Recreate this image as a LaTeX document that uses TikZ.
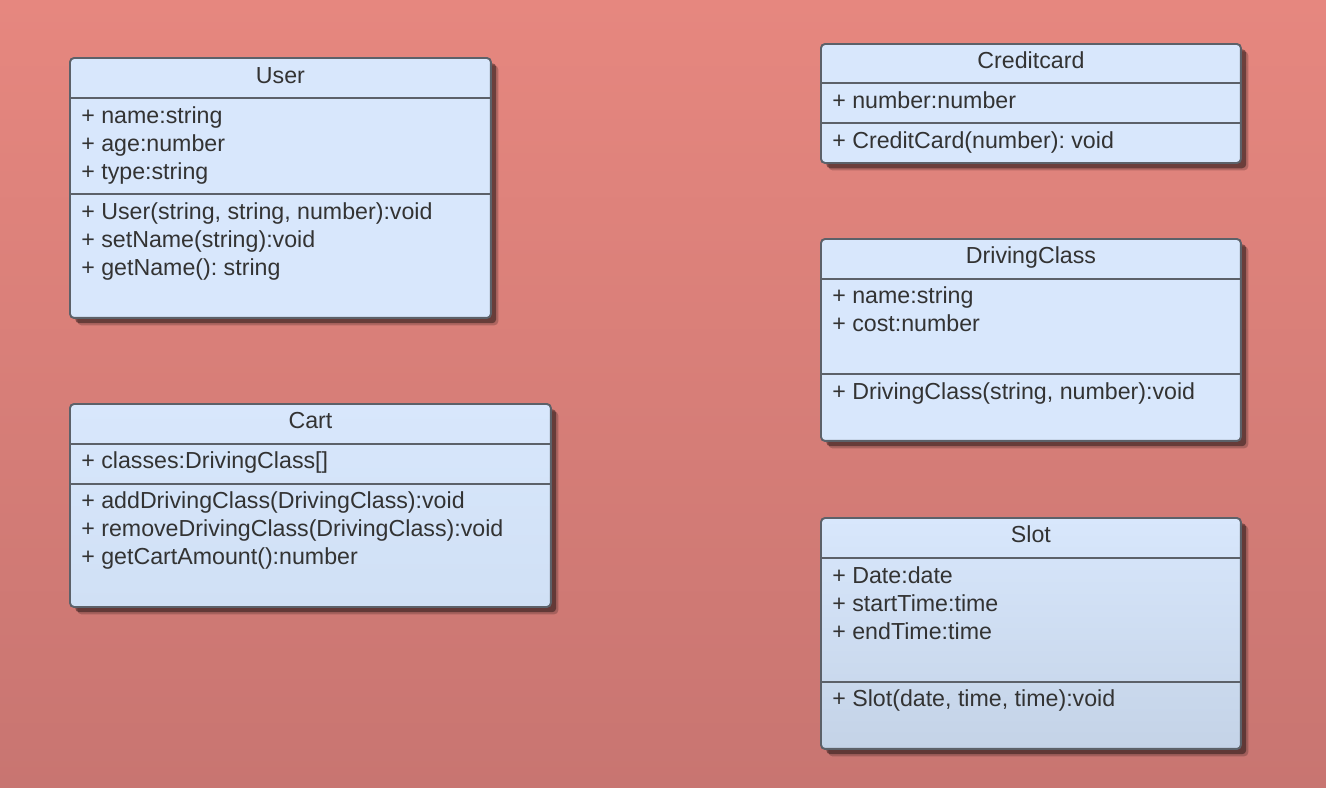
\documentclass[tikz,border=0pt]{standalone}
\usepackage{fontspec}
\setmainfont{Liberation Sans}
\usetikzlibrary{shadows}
\frenchspacing

\definecolor{bgtop}{HTML}{E6877F}
\definecolor{bgbot}{HTML}{C87571}
\definecolor{boxfill}{HTML}{D8E7FC}
\definecolor{boxline}{HTML}{5C6169}
\definecolor{inktext}{HTML}{333333}

\tikzset{
    classbox/.style={draw=boxline, line width=1.1pt, rounded corners=2.3pt,
        fill=boxfill, inner sep=0pt, outer sep=0pt, anchor=north west,
        drop shadow={shadow xshift=4.2pt, shadow yshift=-4.2pt, fill=black, opacity=0.2},
        drop shadow={shadow xshift=3pt, shadow yshift=-3pt, fill=black, opacity=0.4}},
    divider/.style={draw=boxline, line width=1.1pt},
    classname/.style={anchor=base, inner sep=0pt, text=inktext, font=\fontsize{13.2}{15}\selectfont},
    member/.style={anchor=base west, inner sep=0pt, text=inktext, font=\fontsize{13.2}{15}\selectfont}
}

\begin{document}
\begin{tikzpicture}[x=0.02cm, y=-0.02cm]
    \shade[top color=bgtop, bottom color=bgbot] (0,0) rectangle (1326,788);
    \useasboundingbox (0,0) rectangle (1326,788);

    % User
    \node[classbox, minimum width=8.42cm, minimum height=5.2cm] (user) at (70,58) {};
    \draw[divider] (user.west |- 0,98) -- (user.east |- 0,98);
    \draw[divider] (user.west |- 0,194) -- (user.east |- 0,194);
    \node[classname] (user-name) at (user.north |- 0,83) {User};
    \node[member] (user-a1) at (81,123) {+ name:string};
    \node[member] (user-a2) at (81,151) {+ age:number};
    \node[member] (user-a3) at (81,179) {+ type:string};
    \node[member] (user-m1) at (81,219) {+ User(string, string, number):void};
    \node[member] (user-m2) at (81,247) {+ setName(string):void};
    \node[member] (user-m3) at (81,275) {+ getName(): string};

    % Cart
    \node[classbox, minimum width=9.62cm, minimum height=4.06cm,
          top color=boxfill, bottom color={rgb,255:red,208;green,224;blue,245}] (cart) at (70,404) {};
    \draw[divider] (cart.west |- 0,444) -- (cart.east |- 0,444);
    \draw[divider] (cart.west |- 0,484) -- (cart.east |- 0,484);
    \node[classname] (cart-name) at (cart.north |- 0,428) {Cart};
    \node[member] (cart-a1) at (81,468) {+ classes:DrivingClass[]};
    \node[member] (cart-m1) at (81,508) {+ addDrivingClass(DrivingClass):void};
    \node[member] (cart-m2) at (81,536) {+ removeDrivingClass(DrivingClass):void};
    \node[member] (cart-m3) at (81,564) {+ getCartAmount():number};

    % Creditcard
    \node[classbox, minimum width=8.4cm, minimum height=2.38cm] (card) at (821,44) {};
    \draw[divider] (card.west |- 0,83) -- (card.east |- 0,83);
    \draw[divider] (card.west |- 0,123) -- (card.east |- 0,123);
    \node[classname] (card-name) at (card.north |- 0,68) {Creditcard};
    \node[member] (card-a1) at (832,108) {+ number:number};
    \node[member] (card-m1) at (832,148) {+ CreditCard(number): void};

    % DrivingClass
    \node[classbox, minimum width=8.4cm, minimum height=4.04cm] (drive) at (821,239) {};
    \draw[divider] (drive.west |- 0,279) -- (drive.east |- 0,279);
    \draw[divider] (drive.west |- 0,374) -- (drive.east |- 0,374);
    \node[classname] (drive-name) at (drive.north |- 0,263) {DrivingClass};
    \node[member] (drive-a1) at (832,303) {+ name:string};
    \node[member] (drive-a2) at (832,331) {+ cost:number};
    \node[member] (drive-m1) at (832,399) {+ DrivingClass(string, number):void};

    % Slot
    \node[classbox, minimum width=8.4cm, minimum height=4.62cm,
          top color=boxfill, bottom color={rgb,255:red,196;green,211;blue,231}] (slot) at (821,518) {};
    \draw[divider] (slot.west |- 0,558) -- (slot.east |- 0,558);
    \draw[divider] (slot.west |- 0,682) -- (slot.east |- 0,682);
    \node[classname] (slot-name) at (slot.north |- 0,542) {Slot};
    \node[member] (slot-a1) at (832,583) {+ Date:date};
    \node[member] (slot-a2) at (832,611) {+ startTime:time};
    \node[member] (slot-a3) at (832,639) {+ endTime:time};
    \node[member] (slot-m1) at (832,706) {+ Slot(date, time, time):void};
\end{tikzpicture}
\end{document}
